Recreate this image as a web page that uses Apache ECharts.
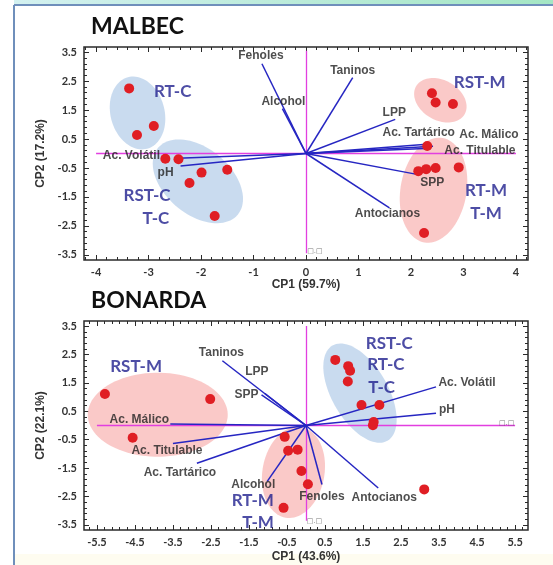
<!DOCTYPE html>
<html><head><meta charset="utf-8">
<script src="https://cdn.jsdelivr.net/npm/echarts@6/dist/echarts.min.js"></script>
<style>html,body{margin:0;padding:0;background:#fff}#c{width:553px;height:565px}</style>
</head><body><div id="c"></div>
<script>
// ---------------- DATA ----------------
// MALBEC
const malbecTitle = 'MALBEC';
const malbecXName = 'CP1 (59.7%)';
const malbecYName = 'CP2 (17.2%)';
const malbecXTicks = [-4, -3, -2, -1, 0, 1, 2, 3, 4];
const malbecYTicks = [-3.5, -2.5, -1.5, -0.5, 0.5, 1.5, 2.5, 3.5];
const malbecPoints = [
  [-3.37, 2.25], [-3.22, 0.64], [-2.90, 0.95], [-2.68, -0.18], [-2.43, -0.20],
  [-1.99, -0.66], [-1.50, -0.56], [-2.22, -1.02], [-1.74, -2.16],
  [2.40, 2.08], [2.47, 1.76], [2.80, 1.71], [2.31, 0.26], [2.14, -0.61],
  [2.29, -0.54], [2.47, -0.50], [2.91, -0.48], [2.25, -2.75]
];
const malbecVectorNames = ['Fenoles', 'Alcohol', 'Taninos', 'LPP', 'Ac. Tartárico', 'Ac. Málico',
  'Ac. Titulable', 'SPP', 'Antocianos', 'Ac. Volátil', 'pH'];
const malbecVectorEnds = [
  [-0.84, 3.10], [-0.45, 1.55], [0.89, 2.62], [1.70, 1.18], [2.30, 0.32], [2.42, 0.25],
  [2.38, 0.18], [2.14, -0.73], [1.59, -1.88], [-2.45, -0.16], [-2.39, -0.43]
];
const malbecGroupNames = ['RT-C', 'RST-C', 'T-C', 'RST-M', 'RT-M', 'T-M'];
const malbecGroupAt = [[-2.54, 2.13], [-3.03, -1.44], [-2.86, -2.26], [3.31, 2.44], [3.43, -1.27], [3.43, -2.06]];
const malbecEllipseCenters = [[-3.21, 1.40], [-2.06, -0.96], [2.56, 1.84], [2.43, -1.27]];
const malbecEllipseKinds = ['C', 'C', 'M', 'M'];

// BONARDA
const bonardaTitle = 'BONARDA';
const bonardaXName = 'CP1 (43.6%)';
const bonardaYName = 'CP2 (22.1%)';
const bonardaXTicks = [-5.5, -4.5, -3.5, -2.5, -1.5, -0.5, 0.5, 1.5, 2.5, 3.5, 4.5, 5.5];
const bonardaYTicks = [-3.5, -2.5, -1.5, -0.5, 0.5, 1.5, 2.5, 3.5];
const bonardaPoints = [
  [-5.29, 1.11], [-2.52, 0.93], [-4.56, -0.43], [-0.56, -0.40], [-0.47, -0.89],
  [-0.22, -0.85], [-0.12, -1.60], [0.05, -2.07], [-0.59, -2.90],
  [0.77, 2.31], [1.11, 2.09], [1.16, 1.93], [1.10, 1.55], [1.46, 0.72],
  [1.93, 0.72], [1.78, 0.12], [1.76, 0.01], [3.11, -2.25]
];
const bonardaVectorNames = ['Taninos', 'LPP', 'SPP', 'Ac. Málico', 'Ac. Titulable', 'Ac. Tartárico',
  'Alcohol', 'Fenoles', 'Antocianos', 'Ac. Volátil', 'pH'];
const bonardaVectorEnds = [
  [-2.20, 2.28], [-1.08, 1.12], [-1.17, 1.08], [-3.57, 0.05], [-3.50, -0.63], [-2.87, -1.33],
  [-1.02, -1.97], [0.42, -2.08], [1.90, -2.20], [3.42, 1.36], [3.42, 0.43]
];
const bonardaGroupNames = ['RST-M', 'RT-M', 'T-M', 'RST-C', 'RT-C', 'T-C'];
const bonardaGroupAt = [[-4.47, 2.08], [-1.40, -2.63], [-1.26, -3.40], [2.19, 2.90], [2.10, 2.14], [1.99, 1.34]];
const bonardaEllipseCenters = [[-3.90, 0.38], [-0.33, -1.65], [1.42, 1.14]];
const bonardaEllipseKinds = ['M', 'M', 'C'];

// ---------------- LAYOUT / STYLE ----------------
const RED = '#e01e24', BLUE = '#2626c2', PINK = '#e23fe0', NAVY = '#21218e';
const ELL_FILL = { C: 'rgba(192,213,236,0.85)', M: 'rgba(249,192,190,0.85)' };
// ellipse shapes in pixels: major p, minor q, rotation (deg, screen coords)
const malbecEllipseShape = [{ p: 37, q: 27, rot: 75 }, { p: 52, q: 33, rot: 40 }, { p: 28, q: 20, rot: 30 }, { p: 53, q: 33, rot: 100 }];
const bonardaEllipseShape = [{ p: 70, q: 42, rot: 0 }, { p: 46, q: 31, rot: 100 }, { p: 55, q: 28, rot: 60 }];
// label offsets (px) relative to vector end points
const malbecLabelOffset = [[-1, -8], [1, -7], [0, -7], [-1, -7], [-8, -12], [56, -12], [49, 2], [14, 8], [-2, 6], [-46, -2], [-15, 7]];
const bonardaLabelOffset = [[-1, -8], [-8, -22], [-15, 0], [-31, -4], [-6, 7], [-17, 9], [-14, 3], [0, 12], [6, 10], [31, -4], [11, -4]];

const grids = [
  { left: 84, right: 25, top: 47, height: 213, show: true, borderColor: '#2a2a2a', borderWidth: 1.5, backgroundColor: 'transparent' },
  { left: 84, right: 25, top: 321, height: 209, show: true, borderColor: '#2a2a2a', borderWidth: 1.5, backgroundColor: 'transparent' }
];
const ranges = [
  { x: [-4.23, 4.23], y: [-3.68, 3.68] },
  { x: [-5.84, 5.84], y: [-3.68, 3.68] }
];

function minorOf(maj, lo, hi) {
  const out = [];
  for (let k = -80; k <= 80; k++) {
    const v = Math.round((maj[0] + k * 0.2) * 100) / 100;
    if (v > lo + 0.01 && v < hi - 0.01 && !maj.some(m => Math.abs(m - v) < 1e-6)) out.push(v);
  }
  return out;
}

const xAxes = [], yAxes = [];
const axisIdx = [];
function addAxes(gi, xMaj, yMaj, xName, yName, nameGapX) {
  const r = ranges[gi];
  const xMin = minorOf(xMaj, r.x[0], r.x[1]);
  const yMin = minorOf(yMaj, r.y[0], r.y[1]);
  const base = (rng) => ({ type: 'value', gridIndex: gi, min: rng[0], max: rng[1],
    axisLine: { show: false, onZero: false }, splitLine: { show: false } });
  const tick = (vals, len) => ({ show: true, inside: true, length: len, customValues: vals, lineStyle: { color: '#2a2a2a', width: 1 } });
  const first = xAxes.length;
  const lbl = { fontFamily: 'Lato', fontWeight: 'bold', fontSize: 11, color: '#333' };
  xAxes.push(Object.assign(base(r.x), { position: 'bottom', axisTick: tick(xMaj, 5),
    axisLabel: Object.assign({ show: true, customValues: xMaj, margin: 7 }, lbl),
    name: xName, nameLocation: 'middle', nameGap: nameGapX,
    nameTextStyle: { fontFamily: 'Liberation Sans', fontWeight: 'bold', fontSize: 12, color: '#333' } }));
  xAxes.push(Object.assign(base(r.x), { position: 'bottom', axisTick: tick(xMin, 3), axisLabel: { show: false } }));
  xAxes.push(Object.assign(base(r.x), { position: 'top', axisTick: tick(xMaj, 5), axisLabel: { show: false } }));
  xAxes.push(Object.assign(base(r.x), { position: 'top', axisTick: tick(xMin, 3), axisLabel: { show: false } }));
  const firstY = yAxes.length;
  yAxes.push(Object.assign(base(r.y), { position: 'left', axisTick: tick(yMaj, 5),
    axisLabel: Object.assign({ show: true, customValues: yMaj, margin: 7 }, lbl),
    name: yName, nameLocation: 'middle', nameGap: 27,
    nameTextStyle: { fontFamily: 'Liberation Sans', fontWeight: 'bold', fontSize: 12, color: '#333' } }));
  yAxes.push(Object.assign(base(r.y), { position: 'left', axisTick: tick(yMin, 3), axisLabel: { show: false } }));
  yAxes.push(Object.assign(base(r.y), { position: 'right', axisTick: tick(yMaj, 5), axisLabel: { show: false } }));
  yAxes.push(Object.assign(base(r.y), { position: 'right', axisTick: tick(yMin, 3), axisLabel: { show: false } }));
  axisIdx[gi] = { x: first, y: firstY };
}
addAxes(0, malbecXTicks, malbecYTicks, malbecXName, malbecYName, 19);
addAxes(1, bonardaXTicks, bonardaYTicks, bonardaXName, bonardaYName, 21);

function panelSeries(gi, P) {
  const ax = { xAxisIndex: axisIdx[gi].x, yAxisIndex: axisIdx[gi].y };
  const s = [];
  // ellipses
  s.push(Object.assign({ type: 'custom', silent: true, z: 1, clip: false,
    data: P.ellC.map((c, i) => ({ value: c, kind: P.ellK[i] })),
    renderItem: (params, api) => {
      const sh = P.ellS[params.dataIndex];
      const kind = P.ellK[params.dataIndex];
      const c = api.coord([api.value(0), api.value(1)]);
      const r = sh.rot * Math.PI / 180, pts = [];
      for (let i = 0; i < 90; i++) {
        const t = i / 90 * 2 * Math.PI, a = sh.p * Math.cos(t), b = sh.q * Math.sin(t);
        pts.push([c[0] + a * Math.cos(r) - b * Math.sin(r), c[1] + a * Math.sin(r) + b * Math.cos(r)]);
      }
      return { type: 'polygon', shape: { points: pts }, style: { fill: ELL_FILL[kind] } };
    } }, ax));
  // reference axes (pink)
  s.push(Object.assign({ type: 'lines', coordinateSystem: 'cartesian2d', silent: true, z: 2,
    lineStyle: { color: PINK, width: 1.3, opacity: 1 },
    data: P.pink.map(c => ({ coords: c })) }, ax));
  // vectors
  s.push(Object.assign({ type: 'lines', coordinateSystem: 'cartesian2d', silent: true, z: 3,
    lineStyle: { color: BLUE, width: 1.5, opacity: 1 },
    data: P.vEnds.map(e => ({ coords: [[0, 0], e] })) }, ax));
  // vector labels
  s.push(Object.assign({ type: 'scatter', silent: true, z: 5, symbolSize: 1, itemStyle: { color: 'rgba(0,0,0,0)' },
    label: { show: true, position: 'inside', formatter: '{b}', fontFamily: 'Liberation Sans', fontWeight: 'bold', fontSize: 12, color: '#222' },
    data: P.vEnds.map((e, i) => ({ name: P.vNames[i], value: e, label: { offset: P.vOff[i] } })) }, ax));
  // points
  s.push(Object.assign({ type: 'scatter', silent: true, z: 4, symbolSize: 10, itemStyle: { color: RED, opacity: 1 },
    data: P.points }, ax));
  // group labels
  s.push(Object.assign({ type: 'scatter', silent: true, z: 6, symbolSize: 1, itemStyle: { color: 'rgba(0,0,0,0)' },
    label: { show: true, position: 'inside', formatter: '{b}', fontFamily: 'Lato', fontWeight: 'bold', fontSize: 17, color: NAVY },
    data: P.gAt.map((g, i) => ({ name: P.gNames[i], value: g })) }, ax));
  // small origin marks
  s.push(Object.assign({ type: 'scatter', silent: true, z: 6, symbolSize: 1, itemStyle: { color: 'rgba(0,0,0,0)' },
    label: { show: true, position: 'inside', formatter: '\u25A1.\u25A1', fontFamily: 'DejaVu Sans', fontSize: 7, color: '#555' },
    data: P.marks }, ax));
  return s;
}

const series = [].concat(
  panelSeries(0, { ellC: malbecEllipseCenters, ellK: malbecEllipseKinds, ellS: malbecEllipseShape,
    pink: [[[-4, 0], [4, 0]], [[0, -3.45], [0, 3.55]]],
    vEnds: malbecVectorEnds, vNames: malbecVectorNames, vOff: malbecLabelOffset,
    points: malbecPoints, gAt: malbecGroupAt, gNames: malbecGroupNames, marks: [[0.17, -3.38]] }),
  panelSeries(1, { ellC: bonardaEllipseCenters, ellK: bonardaEllipseKinds, ellS: bonardaEllipseShape,
    pink: [[[-5.5, 0], [5.5, 0]], [[0, -3.35], [0, 3.5]]],
    vEnds: bonardaVectorEnds, vNames: bonardaVectorNames, vOff: bonardaLabelOffset,
    points: bonardaPoints, gAt: bonardaGroupAt, gNames: bonardaGroupNames, marks: [[0.22, -3.38], [5.28, 0.07]] })
);

const titleStyle = { fontFamily: 'Lato', fontWeight: 'bold', fontSize: 23, color: '#111' };
const option = {
  animation: false,
  backgroundColor: '#ffffff',
  title: [
    { text: malbecTitle, left: 91, top: 15, padding: 0, textStyle: titleStyle },
    { text: bonardaTitle, left: 91, top: 289, padding: 0, textStyle: titleStyle }
  ],
  graphic: [
    { type: 'rect', left: 14, top: 0, shape: { width: 539, height: 5 }, silent: true,
      style: { fill: new echarts.graphic.LinearGradient(0, 0, 1, 0, [{ offset: 0, color: '#d3f1f0' }, { offset: 1, color: '#a4e6c4' }]) } },
    { type: 'rect', left: 15, top: 554, shape: { width: 538, height: 11 }, silent: true, style: { fill: '#fefcf0' } },
    { type: 'line', silent: true, shape: { x1: 14, y1: 5, x2: 553, y2: 5 }, style: { stroke: '#6f8fbb', lineWidth: 2 } },
    { type: 'line', silent: true, shape: { x1: 14, y1: 5, x2: 14, y2: 565 }, style: { stroke: '#6f8fbb', lineWidth: 2 } }
  ],
  grid: grids,
  xAxis: xAxes,
  yAxis: yAxes,
  series: series
};
const chart = echarts.init(document.getElementById('c'));
chart.setOption(option);
</script>
</body></html>
